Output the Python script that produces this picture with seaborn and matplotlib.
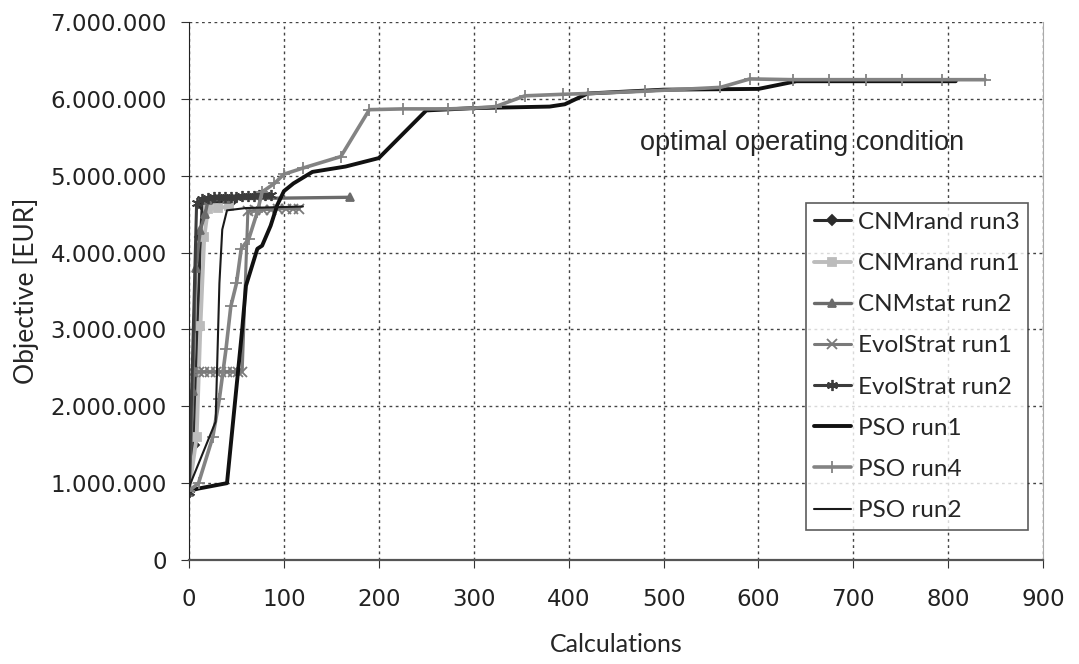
import seaborn as sns
import matplotlib.pyplot as plt
import matplotlib.ticker as mticker
import pandas as pd

# values (x = calculations, y = objective in EUR)
cnmrand3_x = [0, 5, 9, 12, 14, 20, 30, 45]
cnmrand3_y = [880000, 1500000, 3000000, 4200000, 4620000, 4650000, 4660000, 4670000]

cnmrand1_x = [0, 8, 12, 16, 20, 30, 42]
cnmrand1_y = [900000, 1600000, 3050000, 4200000, 4570000, 4580000, 4600000]

cnmstat2_x = [0, 4, 7, 12, 17, 20, 40, 170]
cnmstat2_y = [880000, 2200000, 3800000, 4300000, 4500000, 4680000, 4700000, 4720000]

evol1_x = [0, 4, 10, 16, 22, 28, 34, 40, 46, 52, 56, 62, 70, 78, 86, 94, 102, 110, 116]
evol1_y = [900000, 2450000, 2450000, 2450000, 2450000, 2450000, 2450000, 2450000, 2450000,
           2450000, 2450000, 4540000, 4550000, 4560000, 4560000, 4570000, 4570000, 4570000, 4570000]

evol2_x = [0, 8, 14, 20, 26, 32, 38, 44, 50, 56, 62, 68, 74, 80, 86]
evol2_y = [880000, 4650000, 4700000, 4710000, 4720000, 4720000, 4730000, 4730000, 4730000,
           4740000, 4740000, 4740000, 4750000, 4750000, 4750000]

pso1_x = [0, 10, 40, 56, 60, 72, 77, 86, 93, 100, 110, 130, 165, 200, 250, 300, 380, 396,
          420, 500, 600, 640, 700, 808]
pso1_y = [900000, 930000, 1000000, 3000000, 3570000, 4050000, 4090000, 4350000, 4620000,
          4800000, 4900000, 5050000, 5120000, 5230000, 5850000, 5880000, 5900000, 5930000,
          6070000, 6120000, 6130000, 6230000, 6230000, 6230000]

pso4_x = [0, 10, 25, 32, 39, 44, 50, 55, 63, 72, 77, 90, 100, 120, 160, 190, 226, 273, 299,
          323, 354, 394, 420, 480, 560, 591, 636, 674, 713, 751, 794, 839]
pso4_y = [900000, 1000000, 1600000, 2100000, 2750000, 3300000, 3600000, 4050000, 4180000,
          4530000, 4790000, 4900000, 5020000, 5100000, 5250000, 5860000, 5870000, 5870000,
          5880000, 5900000, 6040000, 6060000, 6070000, 6100000, 6150000, 6260000, 6250000,
          6250000, 6250000, 6250000, 6250000, 6250000]

pso2_x = [0, 28, 32, 35, 40, 60, 120]
pso2_y = [950000, 1800000, 3600000, 4300000, 4550000, 4580000, 4600000]

series = [
    ("CNMrand run3", cnmrand3_x, cnmrand3_y),
    ("CNMrand run1", cnmrand1_x, cnmrand1_y),
    ("CNMstat run2", cnmstat2_x, cnmstat2_y),
    ("EvolStrat run1", evol1_x, evol1_y),
    ("EvolStrat run2", evol2_x, evol2_y),
    ("PSO run1", pso1_x, pso1_y),
    ("PSO run4", pso4_x, pso4_y),
    ("PSO run2", pso2_x, pso2_y),
]

styles = {
    "CNMrand run3": dict(color="#2b2b2b", marker="D", markersize=5, linewidth=2.2),
    "CNMrand run1": dict(color="#bcbcbc", marker="s", markersize=6, linewidth=2.8),
    "CNMstat run2": dict(color="#6b6b6b", marker="^", markersize=6, linewidth=2.4),
    "EvolStrat run1": dict(color="#7a7a7a", marker="x", markersize=7, linewidth=2.2),
    "EvolStrat run2": dict(color="#3c3c3c", marker=(6, 2, 0), markersize=8, linewidth=2.2),
    "PSO run1": dict(color="#111111", marker=None, linewidth=2.8),
    "PSO run4": dict(color="#838383", marker="+", markersize=9, linewidth=2.6),
    "PSO run2": dict(color="#1a1a1a", marker=None, linewidth=1.5),
}

sns.set_style("white")
plt.rcParams['font.family'] = ['DejaVu Sans']

fig = plt.figure(figsize=(10.79, 6.64), dpi=100)
ax = fig.add_axes([0.1752, 0.1566, 0.7915, 0.8102])

for name, xs, ys in series:
    df = pd.DataFrame({"Calculations": xs, "Objective": ys})
    st = styles[name]
    sns.lineplot(data=df, x="Calculations", y="Objective", ax=ax, sort=False, estimator=None,
                 color=st["color"], linewidth=st["linewidth"], marker=st["marker"],
                 markersize=st.get("markersize", 0), markeredgecolor=st["color"],
                 markeredgewidth=1.3, label=name)

ax.set_xlim(0, 900)
ax.set_ylim(0, 7000000)
ax.xaxis.set_major_locator(mticker.MultipleLocator(100))
ax.yaxis.set_major_locator(mticker.MultipleLocator(1000000))
ax.yaxis.set_major_formatter(mticker.FuncFormatter(lambda v, p: f"{int(v):,}".replace(",", ".")))
ax.grid(True, linestyle=(0, (2, 2.5)), color="#444444", linewidth=1.0)
ax.tick_params(axis="both", labelsize=16.5, direction="out", length=6, color="#333333",
               left=True, bottom=True, pad=10, labelcolor="#222222")
ax.tick_params(axis="x", pad=14)

ax.spines["top"].set_visible(False)
ax.spines["right"].set_color("#aaaaaa")
ax.spines["left"].set_color("#222222")
ax.spines["bottom"].set_color("#555555")
ax.spines["bottom"].set_linewidth(1.6)

ax.set_xlabel("Calculations", fontsize=18, family="Lato", labelpad=16)
ax.set_ylabel("Objective [EUR]", fontsize=19, family="Lato", labelpad=8)

ax.text(475, 5420000, "optimal operating condition", fontsize=19.5,
        family="Liberation Sans", va="center")

leg = ax.legend(loc="upper left", bbox_to_anchor=(0.722, 0.663),
                prop={"family": "Lato", "size": 17.5}, frameon=True, fancybox=False,
                edgecolor="#333333", handlelength=1.5, handletextpad=0.3,
                labelspacing=0.83, borderpad=0.35, borderaxespad=0)
leg.get_frame().set_linewidth(1.2)

fig.savefig("out.png", dpi=100)
